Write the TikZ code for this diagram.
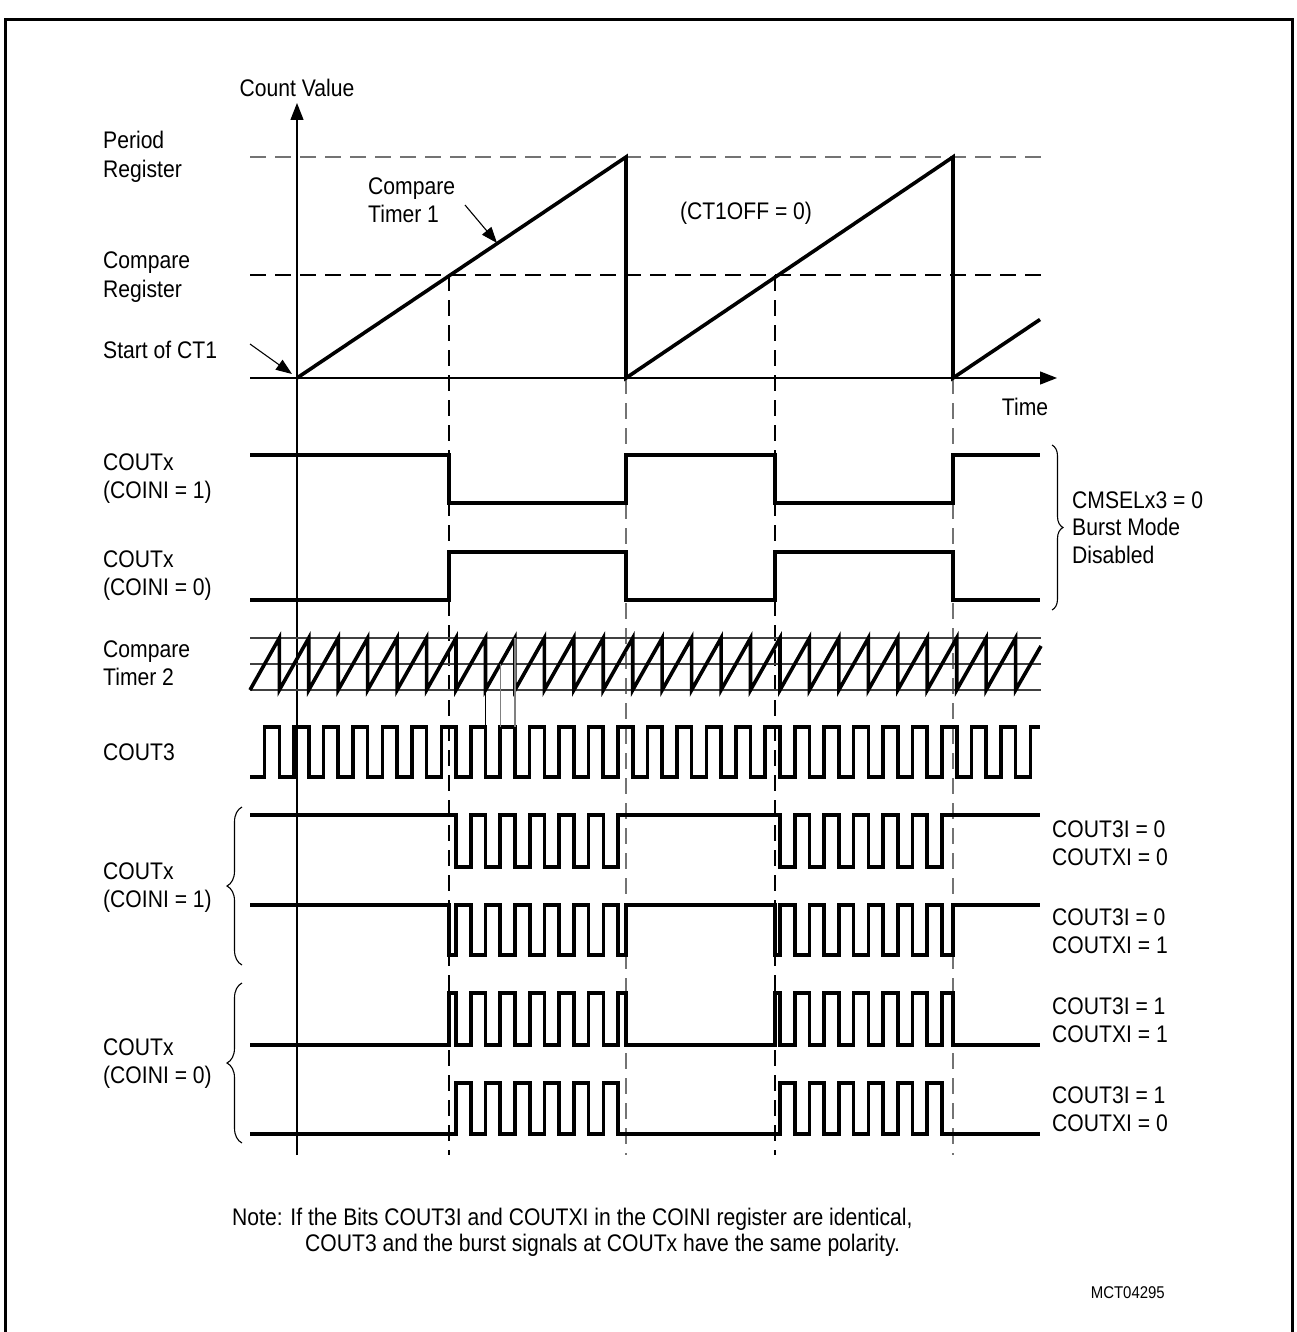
\documentclass[tikz,border=0pt]{standalone}
\usepackage{fontspec}
\setmainfont{Liberation Sans}[FakeStretch=0.88]
\usetikzlibrary{arrows.meta,decorations.pathreplacing}
\tikzset{
 sig/.style={line width=3.6pt, line join=miter},
 thinln/.style={line width=1.3pt},
 dashk/.style={line width=1.3pt, dash pattern=on 16pt off 9pt},
 dashg/.style={dashk, draw=black!55},
 lbl/.style={font=\fontsize{24}{28}\selectfont, align=left, inner sep=0pt, anchor=west},
 arrowtip/.style={-{Triangle[length=17pt,width=13pt]}},
 ptr/.style={line width=1.1pt, -{Triangle[length=16pt,width=12pt]}},
 brc/.style={decorate, decoration={brace, amplitude=#1}, line width=1.1pt},
}
\newcommand\burstwave[3]{%
  \draw[sig] (250,#1) foreach \ea/\eb in #3 { -| (\ea,#2) -| (\eb,#1) } -- (1040,#1);%
}
\def\PairsA{456/470.7, 485.5/500.2, 514.9/529.7, 544.4/559.1, 573.8/588.6, 603.3/618, 780/794.7, 809.4/824.2, 838.9/853.6, 868.3/883.1, 897.8/912.5, 927.2/942}
\def\PairsB{449/456, 470.7/485.5, 500.2/514.9, 529.7/544.4, 559.1/573.8, 588.6/603.3, 618/626, 775/780, 794.7/809.4, 824.2/838.9, 853.6/868.3, 883.1/897.8, 912.5/927.2, 942/953}
\begin{document}
\begin{tikzpicture}[x=1pt,y=-1pt]
\useasboundingbox (0,0) rectangle (1297,1332);
\draw[line width=3pt] (5,1332) -- (5,20) -- (1292,20) -- (1292,1332);

% reference lines
\draw[dashg] (250,157) -- (1045,157);
\draw[dashk] (250,275) -- (1045,275);
\draw[dashk] (449,275) -- (449,1155);
\draw[dashg] (626,378) -- (626,1155);
\draw[dashk] (775,275) -- (775,1155);
\draw[dashg] (953,378) -- (953,1155);

% axes
\coordinate (origin) at (297,378);
\coordinate (ytop) at (297,103);
\coordinate (ybot) at (297,1155);
\coordinate (xl) at (250,378);
\coordinate (xr) at (1057,378);
\draw[thinln, arrowtip] (ybot) -- (ytop);
\draw[thinln, arrowtip] (xl) -- (xr);

% Compare timer 1
\draw[sig] (origin) -- (626,157) -- (626,378) -- (953,157) -- (953,378) -- (1040,319.5);

% labels top
\node[lbl, anchor=center] (cv) at (297,88) {Count Value};
\node[lbl, anchor=center] (time) at (1025,407) {Time};
\node[lbl, font=\fontsize{24}{29}\selectfont] (period) at (103,157) {Period\\Register};
\node[lbl, font=\fontsize{24}{29}\selectfont] (cmpreg) at (103,277) {Compare\\Register};
\node[lbl] (start) at (103,350) {Start of CT1};
\node[lbl] (ct1) at (368,200) {Compare\\Timer 1};
\node[lbl, anchor=center] (off) at (746,213) {(CT1OFF = 0)};
\coordinate (s1) at (250,344);
\coordinate (s2) at (292,374);
\draw[ptr] (s1) -- (s2);
\coordinate (c1) at (465,205);
\coordinate (c2) at (497,243);
\draw[ptr] (c1) -- (c2);

% COUTx burst disabled
\draw[sig] (250,455) -| (449,503) -| (626,455) -| (775,503) -| (953,455) -- (1040,455);
\draw[sig] (250,600) -| (449,552) -| (626,600) -| (775,552) -| (953,600) -- (1040,600);
\node[lbl] (cx1) at (103,479) {COUTx\\(COINI = 1)};
\node[lbl] (cx0) at (103,576) {COUTx\\(COINI = 0)};
\draw[brc=11] (1052,445) -- (1052,610);
\node[lbl, font=\fontsize{24}{27.5}\selectfont] (cmsel) at (1072,527.5) {CMSELx3 = 0\\Burst Mode\\Disabled};

% Compare timer 2
\draw[line width=1.2pt, black!75] (250,638) -- (1041,638) (250,664) -- (1041,664) (250,690) -- (1041,690);
\draw[sig] (250,690) foreach \k in {0,...,25} { -- ({279.3+29.452*\k},638) -- ({279.3+29.452*\k},690) } -- (1041,646);
\node[lbl] (ct2) at (103,663.5) {Compare\\Timer 2};

% COUT3
\draw[sig] (250,777) foreach \k in {0,...,25} { -- ({264.6+29.452*\k},777) -- ({264.6+29.452*\k},727) -- ({279.3+29.452*\k},727) -- ({279.3+29.452*\k},777) } -- (1030.3,777) -- (1030.3,727) -- (1040,727);
\node[lbl] (cout3) at (103,752) {COUT3};
\draw[line width=1.2pt] (485.5,690) -- (485.5,727);
\draw[line width=1.2pt, black!50] (500.2,664) -- (500.2,727);
\draw[line width=1.2pt, black!50] (514.9,638) -- (514.9,727);

% burst signals
\burstwave{815}{867}{\PairsA}
\burstwave{905}{955}{\PairsB}
\burstwave{1045}{993}{\PairsB}
\burstwave{1134}{1083}{\PairsA}
\node[lbl] (bx1) at (103,887.5) {COUTx\\(COINI = 1)};
\node[lbl] (bx0) at (103,1064) {COUTx\\(COINI = 0)};
\draw[brc=15] (242,965) -- (242,807);
\draw[brc=15] (242,1143) -- (242,983);
\node[lbl] (r1) at (1052,843.5) {COUT3I = 0\\COUTXI = 0};
\node[lbl] (r2) at (1052,931) {COUT3I = 0\\COUTXI = 1};
\node[lbl] (r3) at (1052,1020) {COUT3I = 1\\COUTXI = 1};
\node[lbl] (r4) at (1052,1109) {COUT3I = 1\\COUTXI = 0};

% note
\node[lbl] (note1) at (232,1219) {Note: If the Bits COUT3I and COUTXI in the COINI register are identical,};
\node[lbl] (note2) at (305,1245) {COUT3 and the burst signals at COUTx have the same polarity.};
\node[lbl, anchor=east, font=\fontsize{17}{20}\selectfont] (mct) at (1165,1293) {MCT04295};
\end{tikzpicture}
\end{document}
